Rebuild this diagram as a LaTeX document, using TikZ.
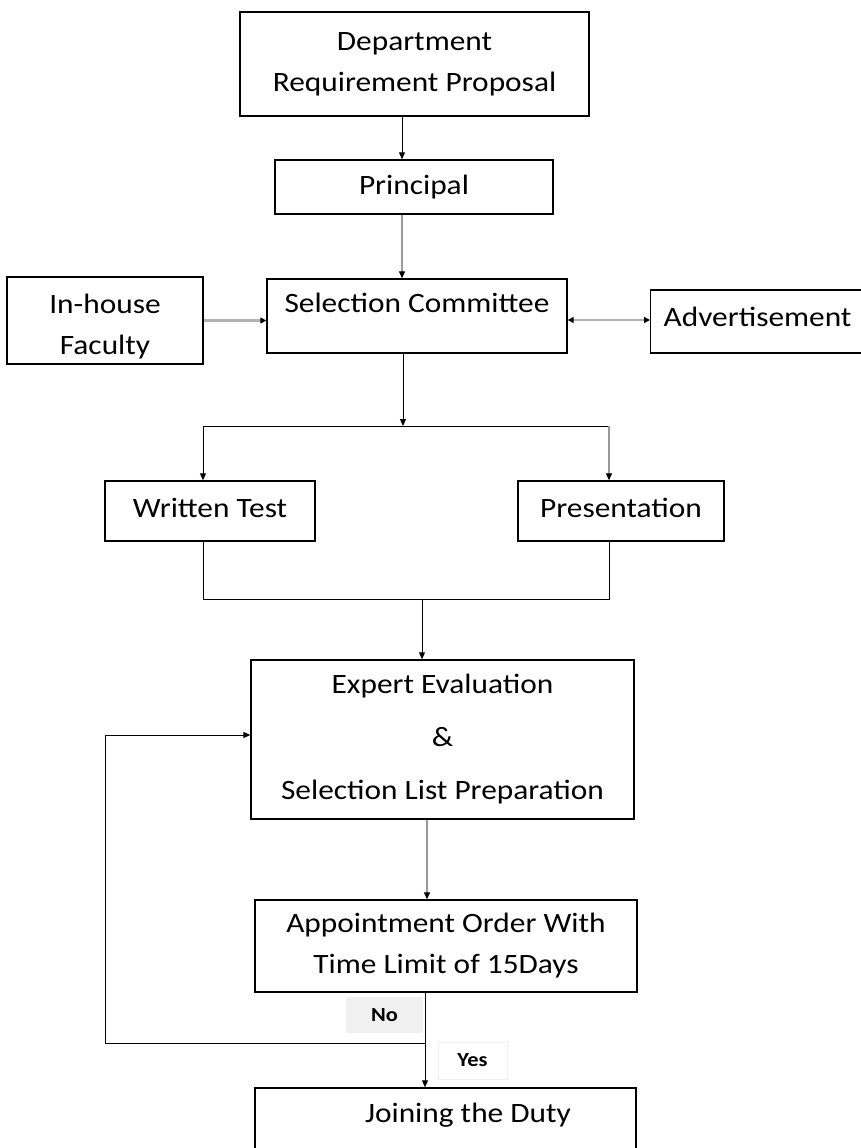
\documentclass[tikz,border=0pt]{standalone}
\usepackage{fontspec}
\setmainfont{Carlito}[FakeStretch=1.12]
\usetikzlibrary{arrows.meta}
\begin{document}
\begin{tikzpicture}[x=1pt,y=-1pt,
  box/.style={draw=black, line width=1.4pt, rectangle, inner sep=0pt, align=center, font=\fontsize{28}{41}\selectfont},
  tag/.style={inner sep=0pt, font=\bfseries\fontsize{20}{24}\selectfont},
  ln/.style={draw=black, line width=1pt},
  arr/.style={ln, -{Triangle[length=7pt,width=6pt]}},
  garr/.style={draw=gray!80, line width=1.2pt, -{Triangle[length=7pt,width=6pt,color=black]}},
  thickarr/.style={draw=gray!60, line width=2.4pt, -{Triangle[length=6pt,width=6pt,color=black]}},
  thickboth/.style={draw=gray!60, line width=2.4pt, {Triangle[length=6pt,width=6pt,color=black]}-{Triangle[length=6pt,width=6pt,color=black]}}
]
\fill[white] (0,0) rectangle (861,1148);
\useasboundingbox (0,0) rectangle (861,1148);
\clip (0,0) rectangle (861,1148);

% boxes
\node[box, minimum width=349pt, minimum height=104pt] (dept) at (414.5,64) {Department\\Requirement Proposal};
\node[box, minimum width=278pt, minimum height=54pt] (principal) at (414,187) {Principal};
\node[box, minimum width=196pt, minimum height=87pt] (inhouse) at (105,320.5) {\rule{0pt}{32pt}In-house\\Faculty};
\node[box, minimum width=300pt, minimum height=74pt, text height=19pt, text depth=26pt] (selection) at (417,316) {Selection Committee};
\node[box, anchor=west, inner xsep=13pt, text width=210pt, align=left, minimum height=63pt, text height=19pt, text depth=10pt] (advert) at (650,321.5) {Advertisement};
\node[box, minimum width=210pt, minimum height=60pt, text height=19.6pt, text depth=6pt] (written) at (210,511) {Written Test};
\node[box, minimum width=206pt, minimum height=60pt, text height=19.6pt, text depth=6pt] (presentation) at (621,511) {Presentation};
\node[box, minimum width=383pt, minimum height=159pt] (expert) at (442.5,739.5) {Expert Evaluation\\[12pt]\&\\[12pt]Selection List Preparation};
\node[box, minimum width=382pt, minimum height=92pt] (appoint) at (446,946) {Appointment Order With\\Time Limit of 15Days};
\node[box, minimum width=381pt, minimum height=92pt, text height=19.6pt, text depth=43.6pt] (joining) at (445.5,1134) {\hspace*{45pt}Joining the Duty};

% labels
\node[tag, fill=gray!12, minimum width=77pt, minimum height=36pt] (no) at (384.5,1015) {No};
\node[tag, draw=gray!12, line width=0.8pt, fill=white, minimum width=69pt, minimum height=37pt] (yes) at (472.5,1060.5) {Yes};

% coordinates
\coordinate (splitC) at (403,426);
\coordinate (splitL) at (203,426);
\coordinate (splitR) at (609,426);
\coordinate (mergeL) at (203,599);
\coordinate (mergeR) at (609,599);
\coordinate (mergeC) at (422,599);
\coordinate (c1) at (427,0);
\coordinate (c2) at (425,0);
\coordinate (fbR) at (425,1043);
\coordinate (fbL) at (105,1043);
\coordinate (advIn) at ([yshift=1.5pt]advert.west);

% connectors
\draw[arr] ([xshift=-12.5pt]dept.south) -- ([xshift=-12pt]principal.north);
\draw[garr] ([xshift=-12pt]principal.south) -- ([xshift=-15pt]selection.north);
\draw[thickarr] (inhouse.east) -- (inhouse.east -| selection.west);
\draw[thickboth] (advIn -| selection.east) -- (advIn);
\draw[arr] (selection.south -| splitC) -- (splitC);
\draw[ln] (splitL) -- (splitR);
\draw[arr] (splitL) -- (splitL |- written.north);
\draw[garr] (splitR) -- (splitR |- presentation.north);
\draw[ln] (written.south -| mergeL) -- (mergeL) -- (mergeR) -- (presentation.south -| mergeR);
\draw[arr] (mergeC) -- (expert.north -| mergeC);
\draw[garr] (expert.south -| c1) -- (appoint.north -| c1);
\draw[arr] (appoint.south -| c2) -- (joining.north -| c2);
\draw[arr] (fbR) -- (fbL) |- ([yshift=4.5pt]expert.west);
\end{tikzpicture}
\end{document}
